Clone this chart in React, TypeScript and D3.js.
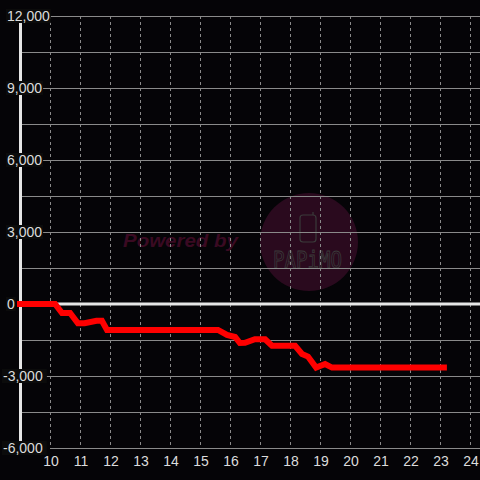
import React from "react";
import * as d3 from "d3";

const hours = [8.9, 10.17, 10.4, 10.67, 10.93, 11.15, 11.55, 11.73, 11.9, 15.6, 15.9, 16.17, 16.33, 16.5, 16.83, 17.17, 17.4, 18.17, 18.4, 18.6, 18.87, 19.17, 19.4, 23.23];
const values = [0, 0, -375, -375, -800, -800, -700, -700, -1080, -1080, -1290, -1375, -1625, -1620, -1470, -1470, -1740, -1740, -2080, -2190, -2650, -2500, -2650, -2650];
const xTicks = [10, 11, 12, 13, 14, 15, 16, 17, 18, 19, 20, 21, 22, 23, 24];
const yTicks = [12000, 9000, 6000, 3000, 0, -3000, -6000];
const yGrid = [12000, 10500, 9000, 7500, 6000, 4500, 3000, 1500, -1500, -3000, -4500];

export default function App() {
  const W = 480, H = 480;
  const x = d3.scaleLinear().domain([10, 24]).range([50, 470]);
  const y = d3.scaleLinear().domain([-6000, 12000]).range([448, 16]);
  const pts: [number, number][] = hours.map((h, i) => [h, values[i]]);
  const line = d3.line<[number, number]>().x(d => x(d[0])).y(d => y(d[1]));
  const fmt = d3.format(",");
  const font = "'Liberation Sans', Arial, sans-serif";
  return (
    <svg width={W} height={H} style={{ position: "absolute", left: 0, top: 0, display: "block" }}>
      <rect x={0} y={0} width={W} height={H} fill="#050407" />
      {/* watermark */}
      <circle cx={309} cy={242} r={49} fill="#2a0a1e" />
      <text x={123} y={247} fill="#3a0a22" fontFamily={font} fontWeight="bold" fontStyle="italic" fontSize={19} textLength={115} lengthAdjust="spacingAndGlyphs">Powered by</text>
      <rect x={300} y={215} width={16} height={27} rx={3} fill="none" stroke="#3a3a3a" strokeWidth={1.2} />
      <line x1={313} y1={215} x2={313} y2={212} stroke="#3a3a3a" strokeWidth={1.2} />
      <text x={273} y={267} fill="none" stroke="#3a3a3a" strokeWidth={0.75} fontFamily="'DejaVu Sans Mono', monospace" fontSize={19} textLength={69} lengthAdjust="spacingAndGlyphs" transform="translate(0,-44) scale(1,1.17)">PAPiMO</text>
      {/* horizontal grid */}
      {yGrid.map(v => (
        <line key={"g" + v} x1={21} x2={480} y1={y(v) + 0.5} y2={y(v) + 0.5} stroke="#8a8a8a" strokeWidth={1} />
      ))}
      {/* vertical dashed grid */}
      {xTicks.map(t => (
        <line key={"v" + t} x1={x(t) + 0.5} x2={x(t) + 0.5} y1={16} y2={448} stroke="#8a8a8a" strokeWidth={1} strokeDasharray="3,3" />
      ))}
      {/* bottom axis */}
      <line x1={50} x2={480} y1={448.5} y2={448.5} stroke="#8a8a8a" strokeWidth={1} />
      {/* y axis */}
      <line x1={20.5} x2={20.5} y1={16} y2={448} stroke="#e6e6e6" strokeWidth={3} />
      {/* zero line */}
      <line x1={20} x2={480} y1={y(0)} y2={y(0)} stroke="#e6e6e6" strokeWidth={3} />
      {/* series */}
      <path d={line(pts) || ""} fill="none" stroke="#ff0000" strokeWidth={6} strokeLinejoin="miter" strokeLinecap="butt" />
      {/* y labels */}
      {yTicks.map(v => {
        const s = fmt(v).replace("−", "-");
        const lx = v < 0 ? 3 : 7;
        const w = s.length * 7.8 - (s.includes(",") ? 3.9 : 0);
        return (
          <g key={"y" + v}>
            <rect x={lx - 1} y={y(v) - 7} width={w + 2} height={14} fill="#0b0b0b" />
            <text x={lx} y={y(v) + 5} fill="#dcdcdc" fontFamily={font} fontSize={14}>{s}</text>
          </g>
        );
      })}
      {/* x labels */}
      {xTicks.map(t => (
        <text key={"x" + t} x={x(t) + 1} y={466} fill="#dcdcdc" fontFamily={font} fontSize={14} textAnchor="middle">{t}</text>
      ))}
    </svg>
  );
}
